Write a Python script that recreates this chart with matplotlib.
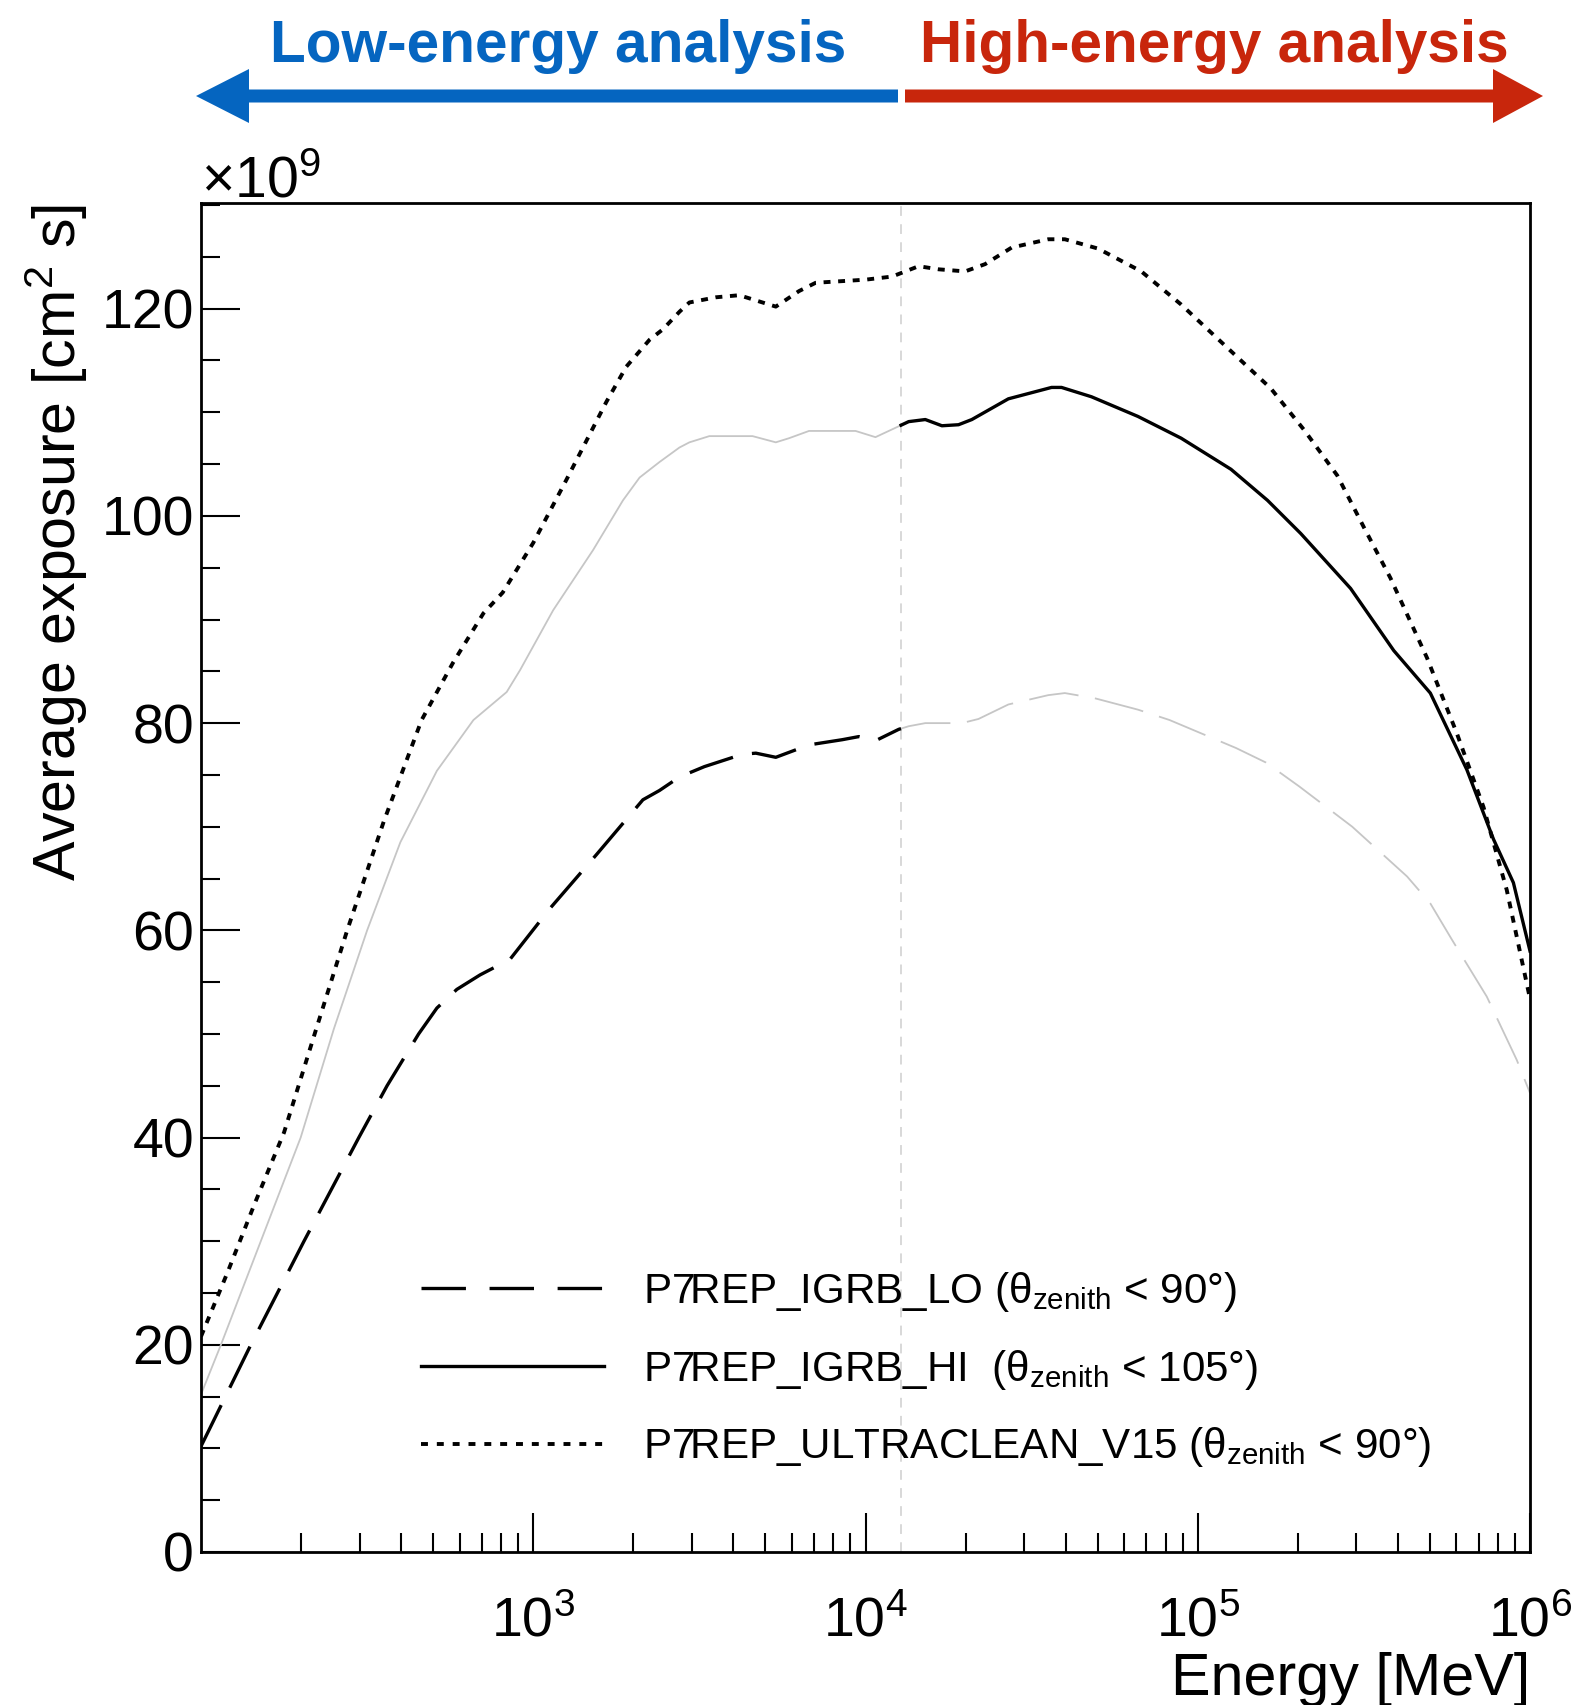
import numpy as np
import matplotlib
matplotlib.use("Agg")
import matplotlib.pyplot as plt
from matplotlib.lines import Line2D
from matplotlib.patches import Polygon
from matplotlib.ticker import FixedLocator, MultipleLocator, FuncFormatter, NullFormatter

# ---------------------------------------------------------------------------
# Average exposure [1e9 cm^2 s] versus log10(energy / MeV)
# ---------------------------------------------------------------------------
lo_log_energy = [2.00, 2.15, 2.31, 2.475, 2.56, 2.655, 2.71, 2.77, 2.84, 2.93,
                 3.05, 3.19, 3.33, 3.38, 3.44, 3.47, 3.515, 3.63, 3.67, 3.73,
                 3.83, 3.93, 3.98, 4.03, 4.10, 4.13, 4.18, 4.29, 4.34, 4.43,
                 4.55, 4.60, 4.69, 4.82, 4.915, 5.115, 5.205, 5.305, 5.465, 5.63,
                 5.70, 5.765, 5.87, 5.96, 6.00]
lo_exposure = [10.2, 20.0, 30.0, 40.0, 45.0, 50.0, 52.5, 54.3, 55.7, 57.2,
               62.1, 67.3, 72.6, 73.5, 74.8, 75.2, 75.8, 77.0, 77.1, 76.7,
               77.9, 78.4, 78.7, 78.3, 79.4, 79.7, 80.0, 80.0, 80.4, 81.8,
               82.7, 82.9, 82.4, 81.3, 80.3, 77.6, 76.2, 73.9, 70.0, 65.2,
               62.6, 59.1, 53.6, 47.5, 44.3]

hi_log_energy = [2.00, 2.06, 2.18, 2.30, 2.40, 2.50, 2.60, 2.71, 2.82, 2.92,
                 2.96, 3.06, 3.18, 3.27, 3.32, 3.38, 3.44, 3.47, 3.53, 3.66,
                 3.73, 3.77, 3.83, 3.97, 4.03, 4.13, 4.18, 4.23, 4.28, 4.32,
                 4.43, 4.56, 4.59, 4.68, 4.82, 4.95, 5.10, 5.21, 5.31, 5.46,
                 5.59, 5.70, 5.81, 5.89, 5.95, 6.00]
hi_exposure = [15.2, 20.0, 30.0, 40.0, 50.5, 60.0, 68.5, 75.4, 80.3, 83.0,
               85.1, 90.9, 96.7, 101.5, 103.7, 105.2, 106.6, 107.1, 107.7, 107.7,
               107.1, 107.5, 108.2, 108.2, 107.6, 109.1, 109.3, 108.7, 108.8, 109.3,
               111.3, 112.4, 112.4, 111.5, 109.6, 107.5, 104.5, 101.5, 98.3, 93.0,
               87.0, 82.9, 75.5, 68.8, 64.6, 58.0]

uc_log_energy = [2.00, 2.08, 2.16, 2.25, 2.345, 2.44, 2.55, 2.664, 2.758, 2.85,
                 2.908, 3.00, 3.10, 3.18, 3.22, 3.28, 3.35, 3.39, 3.44, 3.47,
                 3.55, 3.62, 3.73, 3.80, 3.85, 4.00, 4.08, 4.16, 4.22, 4.30,
                 4.36, 4.44, 4.55, 4.60, 4.70, 4.83, 4.95, 5.10, 5.22, 5.32,
                 5.42, 5.50, 5.58, 5.69, 5.78, 5.86, 5.93, 6.00]
uc_exposure = [20.8, 27.0, 33.5, 40.5, 50.3, 60.0, 70.5, 80.3, 85.8, 90.6,
               92.6, 97.4, 103.5, 108.5, 111.0, 114.4, 117.0, 118.0, 119.7, 120.6,
               121.1, 121.3, 120.2, 121.7, 122.5, 122.8, 123.1, 124.1, 123.8, 123.6,
               124.3, 125.9, 126.7, 126.7, 125.8, 123.6, 120.4, 115.9, 112.3, 108.3,
               103.9, 98.9, 94.0, 86.3, 79.0, 71.9, 63.9, 53.4]

# boundary between the low- and high-energy analyses, log10(E / MeV)
split_log_energy = 4.107

legend_labels = [
    "P7REP_IGRB_LO (θ$_\\mathregular{zenith}$ < 90°)",
    "P7REP_IGRB_HI  (θ$_\\mathregular{zenith}$ < 105°)",
    "P7REP_ULTRACLEAN_V15 (θ$_\\mathregular{zenith}$ < 90°)",
]
x_major_ticks = [1e3, 1e4, 1e5, 1e6]
y_major_ticks = [0, 20, 40, 60, 80, 100, 120]

# ---------------------------------------------------------------------------
FONT = "Liberation Sans"
plt.rcParams["font.family"] = [FONT, "DejaVu Sans"]
plt.rcParams["mathtext.fontset"] = "custom"
plt.rcParams["mathtext.rm"] = FONT
plt.rcParams["mathtext.it"] = FONT + ":italic"
plt.rcParams["mathtext.bf"] = FONT + ":bold"
plt.rcParams["lines.scale_dashes"] = False

BLUE = "#0565c0"
RED = "#c8260c"
GREY = "#c6c6c6"

W, H = 1577, 1705
fig = plt.figure(figsize=(W / 100, H / 100), dpi=100)


def fx(px):
    return px / W


def fy(py):
    return 1 - py / H


ax = fig.add_axes([fx(201), fy(1552), fx(1530) - fx(201), fy(203) - fy(1552)])
ax.set_xscale("log")
ax.set_xlim(1e2, 1e6)
ax.set_ylim(0, 130.2)


def split_curve(logs, vals, cut):
    logs = np.asarray(logs, float)
    vals = np.asarray(vals, float)
    v_cut = np.interp(cut, logs, vals)
    lo = logs < cut
    hi = logs > cut
    x_lo = np.append(logs[lo], cut)
    y_lo = np.append(vals[lo], v_cut)
    x_hi = np.insert(logs[hi], 0, cut)
    y_hi = np.insert(vals[hi], 0, v_cut)
    return (10 ** x_lo, y_lo), (10 ** x_hi, y_hi)


# analysis boundary
ax.axvline(10 ** split_log_energy, color="#d2d2d2", lw=1.2, dashes=(7, 6), zorder=1)

# IGRB_LO: black long dashes below the boundary, grey above
(lo_a, lo_b) = split_curve(lo_log_energy, lo_exposure, split_log_energy)
ax.plot(*lo_a, color="black", lw=2.4, dashes=(33, 14), dash_capstyle="butt", zorder=3)
ax.plot(*lo_b, color=GREY, lw=1.3, dashes=(36, 12), dash_capstyle="butt", zorder=2)

# IGRB_HI: grey below the boundary, black above
(hi_a, hi_b) = split_curve(hi_log_energy, hi_exposure, split_log_energy)
ax.plot(*hi_a, color=GREY, lw=1.3, zorder=2)
ax.plot(*hi_b, color="black", lw=2.4, zorder=3)

# ULTRACLEAN: dotted over the full range
ax.plot(10 ** np.asarray(uc_log_energy), uc_exposure, color="black", lw=2.8,
        dashes=(5, 5.5), dash_capstyle="butt", zorder=3)

# axes styling
for s in ax.spines.values():
    s.set_linewidth(2.0)
ax.xaxis.set_major_locator(FixedLocator(x_major_ticks))
ax.xaxis.set_minor_locator(FixedLocator(
    [m * 10 ** d for d in range(2, 6) for m in range(2, 10)]))
ax.xaxis.set_minor_formatter(NullFormatter())
ax.xaxis.set_major_formatter(FuncFormatter(
    lambda v, p: "$\\mathregular{10^{%d}}$" % int(round(np.log10(v)))))
ax.yaxis.set_major_locator(FixedLocator(y_major_ticks))
ax.yaxis.set_minor_locator(MultipleLocator(5))
ax.tick_params(which="both", direction="in", top=False, right=False, width=1.5)
ax.tick_params(which="major", length=28)
ax.tick_params(which="minor", length=13.5)
ax.tick_params(axis="y", which="major", labelsize=40, pad=5)
ax.tick_params(axis="x", which="major", labelsize=40, pad=32)

# legend
LEG_SIZE = 30.3
handles = [
    Line2D([], [], color="black", lw=2.4, dashes=(32, 17), dash_capstyle="butt"),
    Line2D([], [], color="black", lw=2.4),
    Line2D([], [], color="black", lw=2.8, dashes=(5, 6.4), dash_capstyle="butt"),
]
leg = ax.legend(handles, legend_labels, loc="upper left",
                bbox_to_anchor=(0.1655, 0.209), frameon=False,
                prop={"family": [FONT, "DejaVu Sans"], "size": LEG_SIZE},
                handlelength=183 / (LEG_SIZE * 100 / 72), handletextpad=0.92,
                labelspacing=0.8, borderpad=0, borderaxespad=0)

# text around the frame
xlab = fig.text(fx(1530), fy(1695), "Energy [MeV]", ha="right", va="baseline",
                fontsize=43)
ylab = fig.text(fx(76), fy(204), "Average exposure [cm$^\\mathregular{2}$ s]",
                rotation=90, rotation_mode="anchor", ha="right", va="baseline",
                fontsize=42)
mult = fig.text(fx(201), fy(197), "×10$^\\mathregular{9}$", ha="left",
                va="baseline", fontsize=38)

low_t = fig.text(fx(270), fy(62), "Low-energy analysis", color=BLUE,
                 fontweight="bold", fontsize=40, ha="left", va="baseline")
high_t = fig.text(fx(920), fy(62), "High-energy analysis", color=RED,
                  fontweight="bold", fontsize=40, ha="left", va="baseline")


def fit(t, target_px, vertical=False):
    fig.canvas.draw()
    bb = t.get_window_extent()
    cur = bb.height if vertical else bb.width
    t.set_fontsize(t.get_fontsize() * target_px / cur)


fit(low_t, 576)
fit(high_t, 588)
fit(xlab, 359)
fit(ylab, 677, vertical=True)
fit(mult, 120)


def arrow(x_tail, x_base, x_tip, yc, shaft_h, head_h, color):
    pts = [(x_tail, yc - shaft_h / 2), (x_base, yc - shaft_h / 2),
           (x_base, yc - head_h / 2), (x_tip, yc), (x_base, yc + head_h / 2),
           (x_base, yc + shaft_h / 2), (x_tail, yc + shaft_h / 2)]
    fig.patches.append(Polygon([(fx(x), fy(y)) for x, y in pts], closed=True,
                               transform=fig.transFigure, facecolor=color,
                               edgecolor="none", figure=fig))


arrow(898, 249, 196, 96, 13, 54, BLUE)
arrow(905, 1493, 1543, 96, 13, 54, RED)

fig.savefig("out.png", dpi=100)
